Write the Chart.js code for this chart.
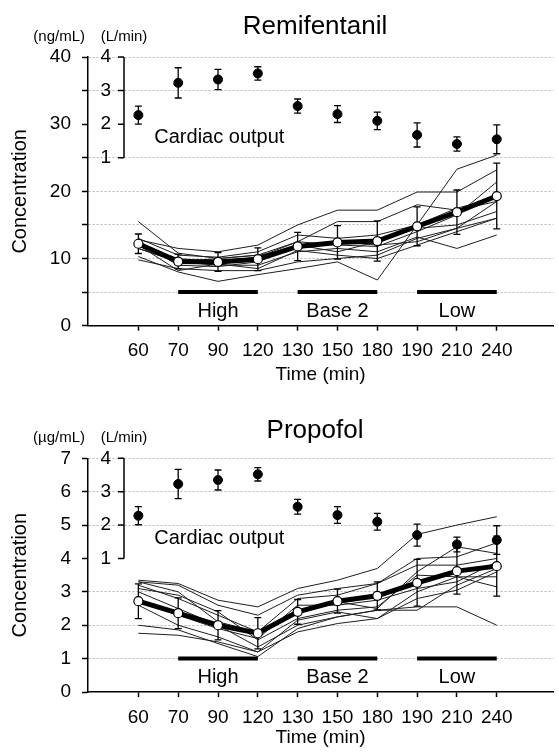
<!DOCTYPE html>
<html>
<head>
<meta charset="utf-8">
<script src="https://cdn.jsdelivr.net/npm/chart.js@4.4.0/dist/chart.umd.min.js"></script>
<style>
  body { margin: 0; background: #fff; }
  #wrap { position: relative; width: 559px; height: 753px; }
  canvas { position: absolute; left: 0; }
</style>
</head>
<body>
<div id="wrap">
  <canvas id="remi" width="559" height="390" style="top:0"></canvas>
  <canvas id="prop" width="559" height="363" style="top:390px"></canvas>
</div>
<script>
// x categories (equally spaced)
const timeLabels = ['60', '70', '90', '120', '130', '150', '180', '190', '210', '240'];
const phaseNames = ['High', 'Base 2', 'Low'];
const phaseStart = [1, 4, 7];
const phaseEnd = [3, 6, 9];
const coTicks = [1, 2, 3, 4];

// Remifentanil (ng/mL)
const remiMean = [12.2, 9.55, 9.5, 9.9, 11.8, 12.4, 12.6, 14.8, 16.9, 19.3];
const remiSD = [1.45, 1.1, 1.4, 1.7, 2.1, 2.5, 3.0, 2.9, 3.3, 4.9];
const remiCO = [2.27, 3.23, 3.33, 3.51, 2.54, 2.30, 2.10, 1.68, 1.41, 1.55];
const remiCOSD = [0.27, 0.45, 0.3, 0.2, 0.21, 0.25, 0.26, 0.36, 0.21, 0.43];
const remiSubjects = [
  [15.5, 10.8, 10.0, 10.5, 12.5, 12.0, 11.8, 14.0, 16.5, 21.4],
  [12.8, 11.5, 11.0, 12.0, 15.0, 17.2, 17.2, 19.9, 19.9, 23.2],
  [10.3, 8.0, 6.6, 7.6, 8.5, 9.5, 6.8, 15.0, 23.3, 25.4],
  [12.0, 10.0, 9.5, 10.2, 12.5, 15.5, 15.5, 18.0, 17.2, 18.5],
  [9.8, 8.5, 8.2, 8.2, 9.5, 10.0, 10.5, 13.0, 14.5, 16.0],
  [11.5, 9.5, 9.0, 9.0, 11.0, 11.5, 11.0, 13.2, 11.5, 13.5],
  [12.5, 9.0, 8.8, 9.5, 12.0, 11.0, 12.5, 14.5, 15.0, 17.0],
  [13.0, 10.5, 10.2, 11.0, 13.5, 13.0, 13.5, 15.0, 17.5, 19.0],
  [11.5, 9.5, 10.0, 10.5, 11.5, 12.5, 12.0, 12.5, 14.5, 18.5],
  [12.0, 8.2, 9.2, 8.5, 11.2, 10.5, 10.0, 12.0, 14.0, 16.0]
];

// Propofol (ug/mL)
const propMean = [2.72, 2.36, 2.0, 1.76, 2.40, 2.72, 2.88, 3.27, 3.62, 3.77];
const propSD = [0.52, 0.46, 0.44, 0.47, 0.37, 0.36, 0.42, 0.7, 0.69, 0.9];
const propCO = [2.28, 3.23, 3.35, 3.52, 2.55, 2.30, 2.10, 1.70, 1.42, 1.55];
const propCOSD = [0.27, 0.44, 0.3, 0.2, 0.22, 0.25, 0.25, 0.33, 0.22, 0.43];
const propSubjects = [
  [3.35, 3.25, 2.75, 2.55, 3.1, 3.35, 3.7, 4.72, 5.0, 5.25],
  [3.3, 3.2, 2.6, 2.3, 2.9, 3.1, 3.25, 4.0, 4.05, 4.47],
  [3.2, 2.8, 2.3, 1.8, 2.4, 2.7, 2.5, 3.6, 4.35, 4.15],
  [3.1, 2.9, 2.4, 1.56, 2.2, 2.45, 2.55, 3.5, 3.45, 3.45],
  [3.0, 2.5, 2.0, 1.35, 2.0, 2.25, 2.45, 2.55, 2.55, 2.0],
  [2.6, 2.0, 1.65, 1.2, 1.8, 2.05, 2.2, 2.8, 3.05, 3.6],
  [2.0, 1.86, 1.45, 1.06, 1.9, 2.25, 2.45, 2.45, 3.2, 3.7],
  [1.76, 1.7, 1.5, 1.2, 2.15, 2.4, 2.2, 3.0, 3.45, 3.15],
  [3.3, 3.0, 2.1, 1.8, 2.8, 2.9, 3.25, 3.8, 3.8, 4.0],
  [2.7, 2.3, 1.9, 1.6, 2.6, 2.6, 2.75, 3.1, 3.3, 3.9]
];

const FONT = '"Liberation Sans", Arial, Helvetica, sans-serif';
Chart.defaults.font.family = FONT;
Chart.defaults.color = '#000';

const pts = arr => arr.map((v, i) => ({ x: i, y: v }));

// mean +/- SD whiskers, drawn just under each dataset's own points
const errorBars = {
  id: 'errorBars',
  beforeDatasetDraw(chart, args) {
    const ds = chart.data.datasets[args.index];
    if (!ds.errors) return;
    const ctx = chart.ctx;
    const ys = args.meta.yScale;
    ctx.save();
    ctx.strokeStyle = '#000';
    ctx.lineWidth = 1.3;
    args.meta.data.forEach((p, i) => {
      const v = ds.data[i].y, e = ds.errors[i];
      const top = ys.getPixelForValue(v + e), bot = ys.getPixelForValue(v - e);
      ctx.beginPath();
      ctx.moveTo(p.x, top); ctx.lineTo(p.x, bot);
      ctx.moveTo(p.x - 3.5, top); ctx.lineTo(p.x + 3.5, top);
      ctx.moveTo(p.x - 3.5, bot); ctx.lineTo(p.x + 3.5, bot);
      ctx.stroke();
    });
    ctx.restore();
  }
};

// title, unit labels, cardiac output bracket axis, phase labels
const decor = {
  id: 'decor',
  afterDraw(chart, args, o) {
    const { ctx, chartArea: a, scales: { x, y, co } } = chart;
    ctx.save();
    ctx.fillStyle = '#000';
    ctx.strokeStyle = '#000';

    ctx.font = '26px ' + FONT;
    ctx.textAlign = 'center';
    ctx.textBaseline = 'alphabetic';
    ctx.fillText(o.title, 315, o.titleY);

    const bx = a.left + 36;
    ctx.font = '15px ' + FONT;
    ctx.textBaseline = 'middle';
    ctx.textAlign = 'right';
    ctx.fillText(o.unit, a.left - 3, a.top - 20.5);
    ctx.textAlign = 'center';
    ctx.fillText('(L/min)', bx, a.top - 20.5);

    // cardiac output axis
    ctx.lineWidth = 1.5;
    ctx.beginPath();
    ctx.moveTo(bx, co.getPixelForValue(coTicks[coTicks.length - 1]));
    ctx.lineTo(bx, co.getPixelForValue(coTicks[0]));
    coTicks.forEach(t => {
      const py = co.getPixelForValue(t);
      ctx.moveTo(bx - 6, py); ctx.lineTo(bx, py);
    });
    ctx.stroke();
    ctx.font = '19px ' + FONT;
    ctx.textAlign = 'right';
    coTicks.forEach(t => ctx.fillText(String(t), bx - 13, co.getPixelForValue(t)));

    ctx.font = '20px ' + FONT;
    ctx.textAlign = 'left';
    ctx.fillText('Cardiac output', x.getPixelForValue(0.4), co.getPixelForValue(1.6));

    ctx.textAlign = 'center';
    ctx.textBaseline = 'alphabetic';
    phaseNames.forEach((n, k) => {
      const px = x.getPixelForValue((phaseStart[k] + phaseEnd[k]) / 2);
      ctx.fillText(n, px, y.getPixelForValue(o.phaseLevel) + 24.5);
    });
    ctx.restore();
  }
};

function buildChart(id, c) {
  const datasets = [
    {
      data: pts(c.co), errors: c.coSd, yAxisID: 'co', showLine: false,
      pointRadius: 4.5, pointBackgroundColor: '#000', pointBorderColor: '#000', order: 0
    },
    {
      data: pts(c.mean), errors: c.sd, yAxisID: 'y', borderColor: '#000', borderWidth: 5,
      pointRadius: 4.5, pointBackgroundColor: '#fff', pointBorderColor: '#000', pointBorderWidth: 1.2, order: 1
    },
    ...phaseNames.map((n, k) => ({
      data: [{ x: phaseStart[k], y: c.phaseLevel }, { x: phaseEnd[k], y: c.phaseLevel }],
      yAxisID: 'y', borderColor: '#000', borderWidth: 4, pointRadius: 0, order: 2
    })),
    ...c.subjects.map(s => ({
      data: pts(s), yAxisID: 'y', borderColor: '#1e1e1e', borderWidth: 1, pointRadius: 0, order: 3
    }))
  ];

  return new Chart(document.getElementById(id), {
    type: 'line',
    data: { datasets },
    options: {
      responsive: false,
      animation: false,
      devicePixelRatio: 1,
      layout: { padding: { top: c.padTop, left: 0, right: 0, bottom: 0 } },
      plugins: {
        legend: { display: false },
        tooltip: { enabled: false },
        decor: { title: c.title, titleY: c.titleY, unit: c.unit, phaseLevel: c.phaseLevel }
      },
      scales: {
        x: {
          type: 'linear', bounds: 'data', min: -1.265, max: 10.42,
          afterBuildTicks: s => { s.ticks = timeLabels.map((_, i) => ({ value: i })); },
          afterFit: s => { s.height = c.xHeight; },
          ticks: { autoSkip: false, maxRotation: 0, padding: 9, font: { size: 19 },
                   callback: v => timeLabels[v] ?? '' },
          grid: { drawOnChartArea: false, tickLength: 5, tickColor: '#000', tickWidth: 1.5 },
          border: { color: '#000', width: 1.5 },
          title: { display: true, text: 'Time (min)', font: { size: 19 }, padding: { top: 0, bottom: 4 } }
        },
        y: {
          position: 'left', min: 0, max: c.yMax,
          afterFit: s => { s.width = 88; },
          ticks: { stepSize: c.yStep, autoSkip: false, padding: 11, font: { size: 19 },
                   callback: v => (v % c.yLabelEvery === 0 ? v : '') },
          grid: {
            color: ctx => (ctx.tick && c.gridSkip.includes(ctx.tick.value)) ? 'rgba(0,0,0,0)' : '#b4b4b4',
            lineWidth: 1, tickLength: 6, tickColor: '#000', tickWidth: 1.5
          },
          border: { color: '#000', width: 1.5, dash: [2, 2] },
          title: { display: true, text: 'Concentration', font: { size: 20 }, padding: { top: 8, bottom: 0 } }
        },
        co: { display: false, min: c.coMin, max: 4 }
      }
    },
    plugins: [errorBars, decor]
  });
}

buildChart('remi', {
  title: 'Remifentanil', titleY: 33.5, unit: '(ng/mL)',
  mean: remiMean, sd: remiSD, co: remiCO, coSd: remiCOSD, subjects: remiSubjects,
  yMax: 40, yStep: 5, yLabelEvery: 10, gridSkip: [0, 30], coMin: -4, phaseLevel: 5,
  padTop: 57, xHeight: 64.3
});

buildChart('prop', {
  title: 'Propofol', titleY: 48.3, unit: '(\u00b5g/mL)',
  mean: propMean, sd: propSD, co: propCO, coSd: propCOSD, subjects: propSubjects,
  yMax: 7, yStep: 1, yLabelEvery: 1, gridSkip: [0, 4], coMin: -3, phaseLevel: 1,
  padTop: 68.3, xHeight: 61
});
</script>
</body>
</html>
